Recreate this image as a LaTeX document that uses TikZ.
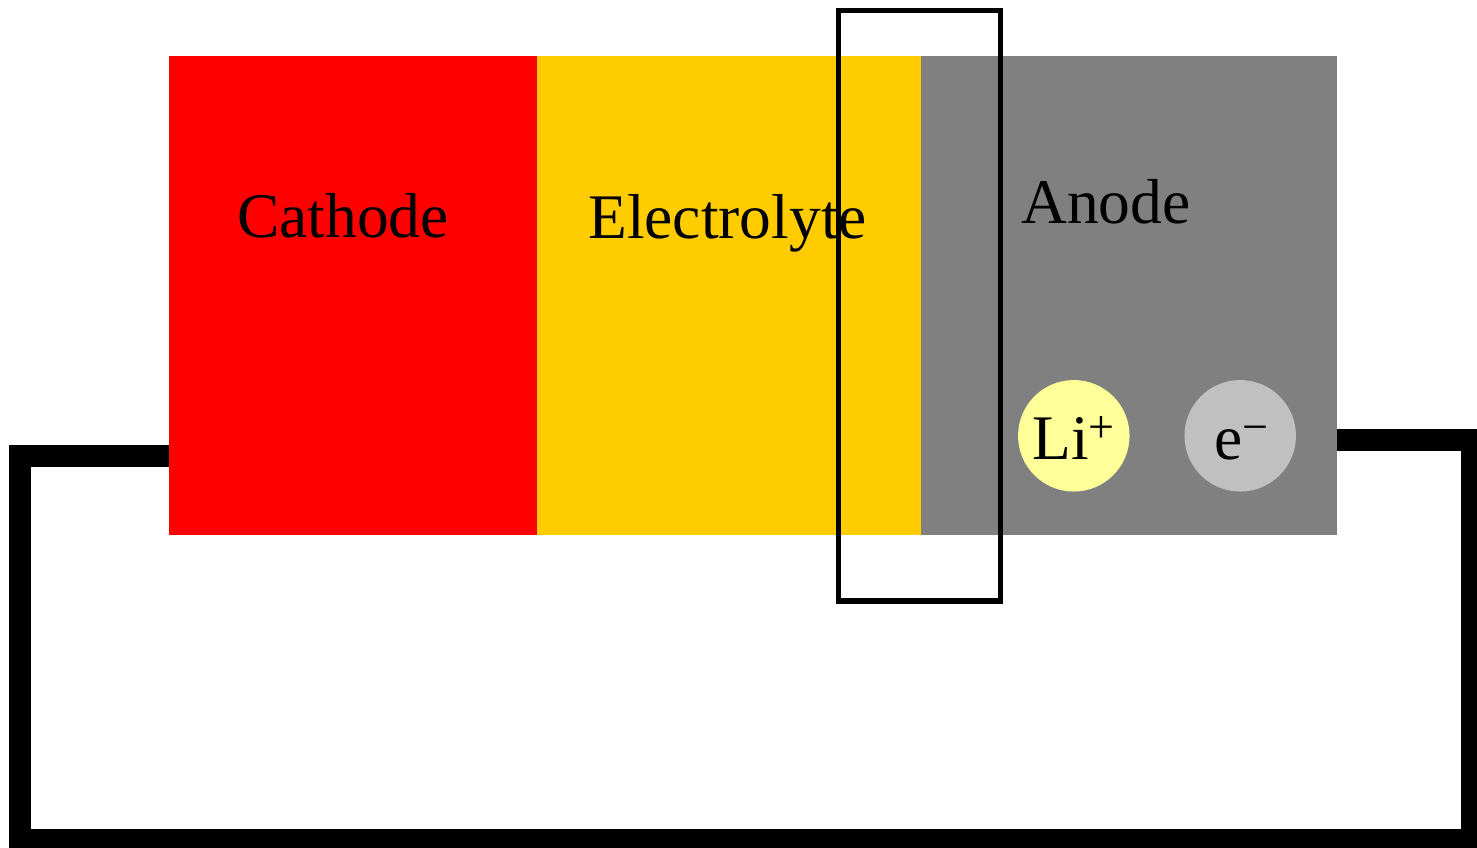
\documentclass[tikz,border=0pt]{standalone}
\usepackage{fontspec}
\setmainfont{Liberation Serif}
\definecolor{cathodered}{HTML}{FF0000}
\definecolor{elecyellow}{HTML}{FFCC00}
\definecolor{anodegray}{HTML}{808080}
\definecolor{liyellow}{HTML}{FFFF99}
\definecolor{egray}{HTML}{C0C0C0}
\newcommand{\bigfont}{\fontsize{63.5}{70}\selectfont}
\newcommand{\supfont}{\fontsize{46}{48}\selectfont}
\begin{document}
\begin{tikzpicture}[x=1pt,y=-1pt,
  layer/.style={inner sep=0pt,outer sep=0pt,draw=none,anchor=north west},
  lbl/.style={inner sep=0pt,anchor=base,font=\bigfont},
  particle/.style={circle,inner sep=0pt,outer sep=0pt,minimum size=111.5pt,draw=none},
  ptext/.style={inner sep=0pt,anchor=base west},
  wire/.style={line width=21.7pt,line join=miter},
  frame/.style={draw=black,line width=5.3pt}]
\useasboundingbox (0,0) rectangle (1477,848);
% layers
\node[layer,fill=cathodered,minimum width=368pt,minimum height=479pt] (cathode) at (169,56) {};
\node[layer,fill=elecyellow,minimum width=384pt,minimum height=479pt] (electrolyte) at (537,56) {};
\node[layer,fill=anodegray,minimum width=416pt,minimum height=479pt] (anode) at (921,56) {};
% wire
\coordinate (wl) at (169,456.2);
\coordinate (wr) at (1337,440.2);
\draw[wire] (cathode.west |- wl) -- (19.8,456.2) -- (19.8,840.1) -- (1471.8,840.1) -- (1471.8,440.2) -- (anode.east |- wr);
% labels
\node[lbl] (tc) at (343,237) {Cathode};
\node[lbl] (te) at (727.5,238) {Electrolyte};
\node[lbl] (ta) at (1106,223) {Anode};
% particles
\node[particle,fill=liyellow] (li) at (1073.8,435.8) {};
\node[particle,fill=egray] (el) at (1240.2,435.8) {};
\node[ptext] (lit) at (1032,459) {\bigfont Li\raisebox{17pt}{\supfont +}};
\node[ptext] (elt) at (1214,459) {\bigfont e\raisebox{17pt}{\supfont −}};
% frame
\draw[frame] (838.5,10.5) rectangle (1000.5,601);
\end{tikzpicture}
\end{document}
